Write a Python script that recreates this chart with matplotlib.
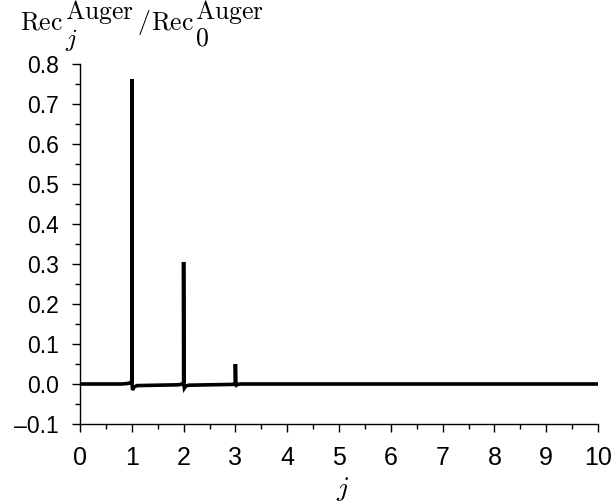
import matplotlib
matplotlib.use("Agg")
import matplotlib.pyplot as plt
from matplotlib.ticker import MultipleLocator

# Data (sharp peaks at j = 1, 2, 3)
j_vals = [0.0, 0.8, 0.9, 0.95, 0.98, 0.995, 1.0, 1.0, 1.005, 1.015, 1.04, 1.1, 1.5,
          1.9, 1.97, 1.995, 2.0, 2.0, 2.005, 2.015, 2.04, 2.1, 2.5,
          2.95, 2.995, 3.0, 3.0, 3.005, 3.015, 3.04, 3.1, 10.0]
ratio = [0.0, 0.0, 0.001, 0.002, 0.004, 0.006, 0.010, 0.762, 0.0, -0.015, -0.008, -0.004, -0.003,
         -0.002, 0.0, 0.002, 0.004, 0.305, 0.0, -0.010, -0.005, -0.003, -0.002,
         -0.001, 0.0, 0.002, 0.050, 0.0, -0.003, -0.001, 0.0, 0.0]

x_ticks = list(range(0, 11))
y_ticks = [-0.1, 0.0, 0.1, 0.2, 0.3, 0.4, 0.5, 0.6, 0.7, 0.8]
y_tick_labels = ["\u20130.1", "0.0", "0.1", "0.2", "0.3", "0.4", "0.5", "0.6", "0.7", "0.8"]

plt.rcParams['mathtext.fontset'] = 'cm'
W, H = 611, 504
fig = plt.figure(figsize=(W / 100, H / 100), dpi=100)
ax = fig.add_axes([80 / W, 1 - 424 / H, 518 / W, 360 / H])

ax.plot(j_vals, ratio, color='black', lw=2.6, solid_joinstyle='miter')

ax.set_xlim(0, 10)
ax.set_ylim(-0.1, 0.8)
ax.spines['top'].set_visible(False)
ax.spines['right'].set_visible(False)
ax.spines['left'].set_linewidth(1.0)
ax.spines['bottom'].set_linewidth(1.0)

ax.set_xticks(x_ticks)
ax.set_yticks(y_ticks)
ax.set_yticklabels(y_tick_labels)
ax.xaxis.set_minor_locator(MultipleLocator(0.5))
ax.yaxis.set_minor_locator(MultipleLocator(0.05))
ax.tick_params(which='major', direction='out', length=6, width=1.0)
ax.tick_params(which='minor', direction='out', length=3.5, width=1.0)
ax.tick_params(axis='x', which='major', labelsize=18, pad=10)
ax.tick_params(axis='y', which='major', labelsize=16.5, pad=9)
for lab in ax.get_xticklabels() + ax.get_yticklabels():
    lab.set_fontfamily('Liberation Sans')

# y-axis title composed of pieces (full-size scripts, as in the reference)
renderer = fig.canvas.get_renderer()
FS = 18.5
BASE, SUP, SUB = 29, 19.5, 46


def put(txt, x, y):
    t = fig.text(x / W, 1 - y / H, txt, fontsize=FS, ha='left', va='baseline')
    bb = t.get_window_extent(renderer)
    return bb.x1  # right edge in pixels


x = 20
x = put(r'$\mathrm{Rec}$', x, BASE)
x0 = x + 2
put(r'$j$', x0, SUB)
x = put(r'$\mathrm{Auger}$', x0, SUP)
x = put(r'$/$', x + 3, BASE)
x = put(r'$\mathrm{Rec}$', x + 1, BASE)
x0 = x + 1
put(r'$0$', x0, SUB)
put(r'$\mathrm{Auger}$', x0, SUP)

fig.text(343 / W, 1 - 489 / H, r'$j$', fontsize=20, ha='center', va='center')

fig.savefig('out.png', dpi=100)
